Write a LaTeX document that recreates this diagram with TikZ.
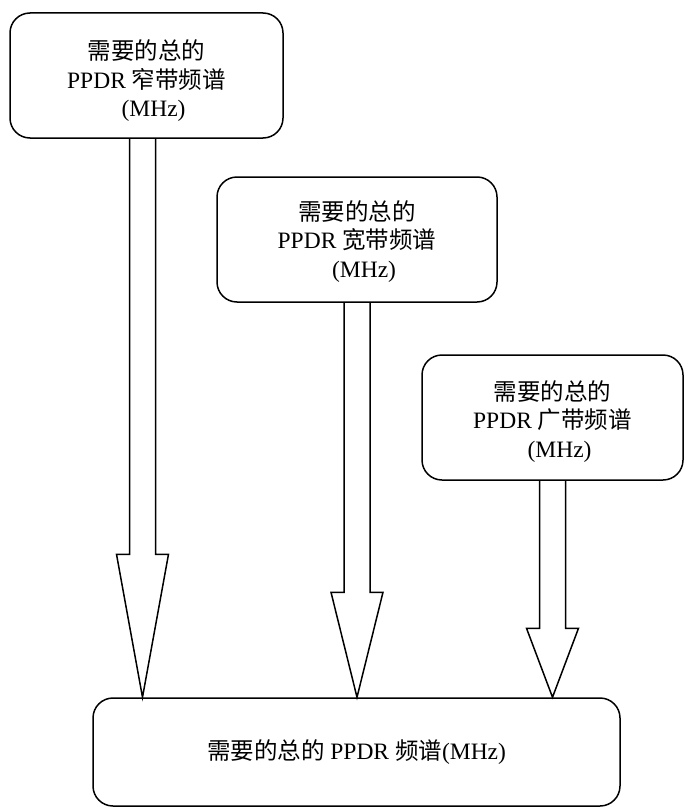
\documentclass[tikz,border=0pt]{standalone}
\usepackage{fontspec}
\setmainfont{Liberation Serif}
\newfontfamily\cjk{Noto Sans CJK SC}
\usepackage{tikz}
\usetikzlibrary{calc}
\definecolor{ink}{HTML}{000000}
\tikzset{
  box/.style={draw=ink, line width=1.5pt, rounded corners=20pt, inner sep=0pt, align=center,
    font=\fontsize{23.5}{28.5}\selectfont},
  blockarrow/.style={draw=ink, line width=1.5pt, line join=miter},
}

\begin{document}
\begin{tikzpicture}[x=1pt,y=-1pt]
  \useasboundingbox (0,0) rectangle (685,808);
  \node[box, minimum width=273, minimum height=125] (nb) at (146.5,75.5)
    {\rule{0pt}{31pt}{\cjk 需要的总的}\\PPDR {\cjk 窄带频谱}\\\hspace*{0.6em}(MHz)};
  \node[box, minimum width=280, minimum height=125] (wb) at (357,239.5)
    {\rule{0pt}{23pt}{\cjk 需要的总的}\\PPDR {\cjk 宽带频谱}\\\hspace*{0.6em}(MHz)};
  \node[box, minimum width=261, minimum height=125] (bb) at (552.5,417.5)
    {\rule{0pt}{27pt}{\cjk 需要的总的}\\PPDR {\cjk 广带频谱}\\\hspace*{0.6em}(MHz)};
  \node[box, minimum width=527, minimum height=108] (total) at (356.5,752)
    {{\cjk 需要的总的} PPDR {\cjk 频谱}(MHz)};
  % hollow block arrows into the total box
  \foreach \s/\dx/\hl in {nb/-4/143, wb/0/105, bb/0/69}{
    \coordinate (tip) at ($(\s.south |- total.north)+(\dx,0)$);
    \draw[blockarrow] ($(\s.south)+(\dx-13,0)$) -- ($(tip)+(-13,-\hl)$) -- ($(tip)+(-26,-\hl)$)
      -- (tip) -- ($(tip)+(26,-\hl)$) -- ($(tip)+(13,-\hl)$) -- ($(\s.south)+(\dx+13,0)$);
  }
\end{tikzpicture}
\end{document}
